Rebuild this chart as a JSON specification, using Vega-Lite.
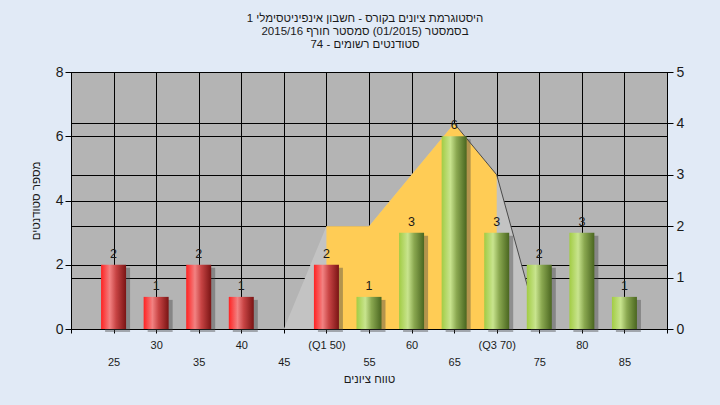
{
  "$schema": "https://vega.github.io/schema/vega-lite/v6.json",
  "width": 596,
  "height": 257,
  "autosize": {"type": "none"},
  "padding": {"left": 71, "top": 72, "right": 53, "bottom": 76},
  "background": "#e1eaf6",
  "config": {
    "font": "Liberation Sans",
    "view": {"fill": "#b4b4b4", "stroke": "#000000", "strokeWidth": 1},
    "axis": {
      "labelColor": "#1a1a1a",
      "titleColor": "#1a1a1a",
      "domainColor": "#000000",
      "tickColor": "#000000",
      "gridColor": "#000000",
      "gridOpacity": 1,
      "gridWidth": 1,
      "labelFont": "Liberation Sans",
      "titleFont": "Liberation Sans",
      "titleFontWeight": "normal"
    }
  },
  "title": {
    "text": ["היסטוגרמת ציונים בקורס - חשבון אינפיניטסימלי 1", "בסמסטר  (01/2015)  סמסטר חורף 2015/16", "סטודנטים רשומים - 74"],
    "fontSize": 11.5,
    "fontWeight": "normal",
    "font": "Liberation Sans",
    "color": "#1a1a1a",
    "anchor": "middle",
    "frame": "group",
    "lineHeight": 13,
    "offset": 15,
    "dx": -4
  },
  "datasets": {
    "hist": [
      {"score": 25, "count": 2},
      {"score": 30, "count": 1},
      {"score": 35, "count": 2},
      {"score": 40, "count": 1},
      {"score": 45, "count": 0},
      {"score": 50, "count": 2},
      {"score": 55, "count": 1},
      {"score": 60, "count": 3},
      {"score": 65, "count": 6},
      {"score": 70, "count": 3},
      {"score": 75, "count": 2},
      {"score": 80, "count": 3},
      {"score": 85, "count": 1}
    ],
    "dist": [
      {"score": 45, "dens": 0},
      {"score": 50, "dens": 2},
      {"score": 55, "dens": 2},
      {"score": 60, "dens": 3},
      {"score": 65, "dens": 4},
      {"score": 70, "dens": 3},
      {"score": 75, "dens": 0}
    ]
  },
  "encoding": {
    "x": {
      "field": "score",
      "type": "quantitative",
      "scale": {"domain": [20, 90], "nice": false, "zero": false, "padding": 0},
      "axis": {
        "orient": "bottom",
        "values": [20, 25, 30, 35, 40, 45, 50, 55, 60, 65, 70, 75, 80, 85, 90],
        "labelExpr": "(datum.value == 20 || datum.value == 90) ? '' : datum.value == 50 ? '(Q1 50)' : datum.value == 70 ? '(Q3 70)' : datum.value % 10 == 0 ? datum.label : ['', datum.label]",
        "grid": true,
        "tickSize": 4,
        "labelPadding": 6,
        "labelFontSize": 11,
        "labelLineHeight": 17.5,
        "labelBaseline": "top",
        "labelAngle": 0,
        "labelFlush": false,
        "labelOverlap": false,
        "labelBound": false,
        "title": "טווח ציונים",
        "titleFontSize": 11.5,
        "titlePadding": 6
      }
    }
  },
  "layer": [
    {
      "data": {"name": "dist"},
      "encoding": {
        "y": {
          "field": "dens",
          "type": "quantitative",
          "scale": {"domain": [0, 5], "nice": false},
          "axis": {
            "orient": "right",
            "values": [0, 1, 2, 3, 4, 5],
            "grid": true,
            "tickSize": 6,
            "labelFontSize": 14,
            "labelPadding": 3,
            "title": null
          }
        }
      },
      "layer": [
        {"mark": {"type": "area", "color": "#c3c3c3", "opacity": 1}},
        {
          "transform": [{"filter": "datum.score >= 50 && datum.score <= 70"}],
          "mark": {"type": "area", "color": "#ffcc55", "opacity": 1}
        },
        {
          "transform": [{"filter": "datum.score >= 65"}],
          "mark": {"type": "line", "color": "#4a4a4a", "strokeWidth": 1}
        }
      ]
    },
    {
      "layer": [
        {
          "data": {"name": "hist"},
          "mark": {"type": "bar", "width": 25, "color": "#404040", "opacity": 0.4, "xOffset": 4, "yOffset": 3},
          "encoding": {
            "y": {
              "field": "count",
              "type": "quantitative",
              "scale": {"domain": [0, 8], "nice": false},
              "axis": {
                "orient": "left",
                "values": [0, 2, 4, 6, 8],
                "grid": true,
                "tickSize": 6,
                "labelFontSize": 14,
                "labelPadding": 2,
                "title": "מספר סטודנטים",
                "titleFontSize": 11.5,
                "titlePadding": 14
              }
            }
          }
        },
        {
          "data": {"name": "hist"},
          "transform": [{"filter": "datum.score <= 50"}],
          "mark": {
            "type": "bar",
            "width": 25,
            "color": {
              "gradient": "linear",
              "x1": 0, "y1": 0, "x2": 1, "y2": 0,
              "stops": [
                {"offset": 0, "color": "#ff2222"},
                {"offset": 0.35, "color": "#f28282"},
                {"offset": 0.6, "color": "#c84444"},
                {"offset": 1, "color": "#7a1414"}
              ]
            }
          },
          "encoding": {"y": {"field": "count", "type": "quantitative"}}
        },
        {
          "data": {"name": "hist"},
          "transform": [{"filter": "datum.score > 50"}],
          "mark": {
            "type": "bar",
            "width": 25,
            "color": {
              "gradient": "linear",
              "x1": 0, "y1": 0, "x2": 1, "y2": 0,
              "stops": [
                {"offset": 0, "color": "#a2cc44"},
                {"offset": 0.35, "color": "#c8e48e"},
                {"offset": 0.6, "color": "#8aa850"},
                {"offset": 1, "color": "#4a6620"}
              ]
            }
          },
          "encoding": {"y": {"field": "count", "type": "quantitative"}}
        },
        {
          "data": {"name": "hist"},
          "transform": [{"filter": "datum.count > 0"}],
          "mark": {"type": "text", "baseline": "bottom", "dy": -4, "fontSize": 12.5, "color": "#1a1a1a"},
          "encoding": {
            "y": {"field": "count", "type": "quantitative"},
            "text": {"field": "count", "type": "quantitative"}
          }
        },
        {
          "data": {"values": [{"label": "במשימה : Exam_B"}]},
          "mark": {"type": "text", "fontSize": 11.5, "color": "#1a1a1a", "baseline": "middle", "align": "center"},
          "encoding": {
            "x": {"datum": 54.85},
            "y": {"datum": 7.57},
            "text": {"field": "label", "type": "nominal"}
          }
        }
      ]
    }
  ],
  "resolve": {"scale": {"y": "independent"}}
}
